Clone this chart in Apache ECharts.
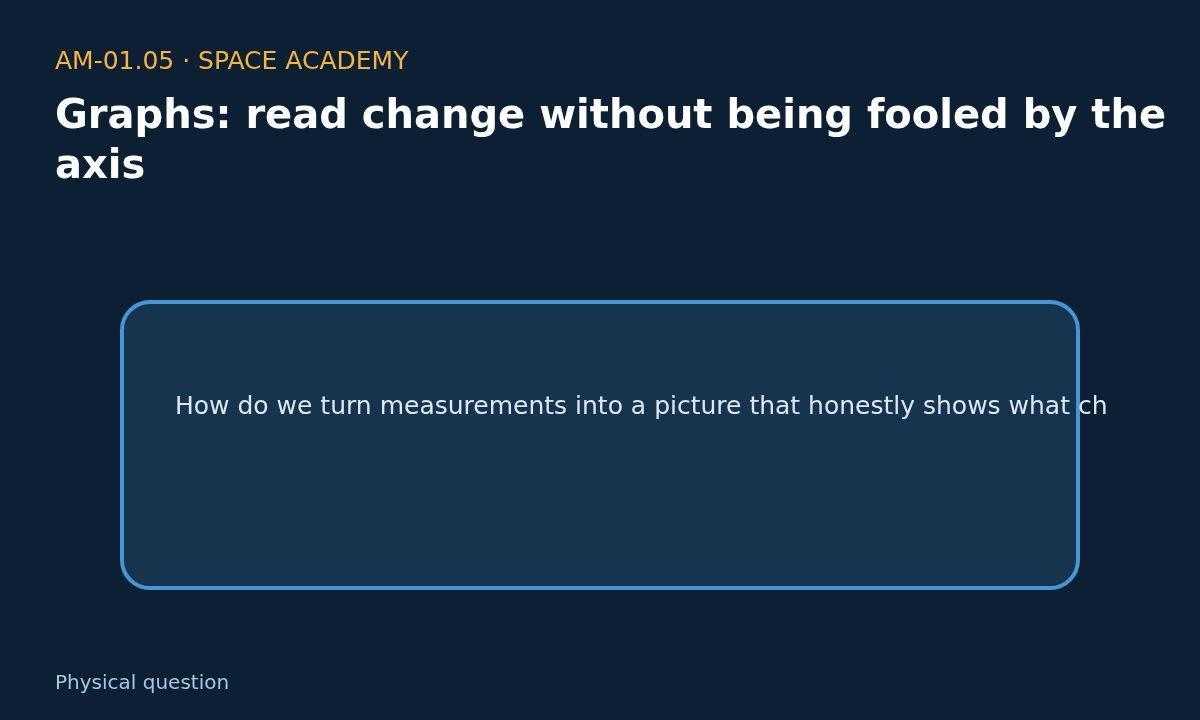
<!DOCTYPE html>
<html>
  <head>
    <meta charset="utf-8">
    <title>AM-01.05 Space Academy</title>
    <style>
      html, body { margin: 0; padding: 0; background: #0d1f33; }
    </style>
  </head>
  <body>
    <div id="main" style="width: 1200px;height:720px;"></div>

  <script src="https://cdn.jsdelivr.net/npm/echarts@6/dist/echarts.min.js" charset="utf-8"></script>
  <script type="text/javascript">
  // slide texts
  var kicker = 'AM-01.05 · SPACE ACADEMY';
  var titleLines = ['Graphs: read change without being fooled by the', 'axis'];
  var question = 'How do we turn measurements into a picture that honestly shows what changes over time?';
  var footer = 'Physical question';

  var myChart = echarts.init(document.getElementById('main'));

  var font = 'DejaVu Sans';

  var option = {
    backgroundColor: '#0d1f33',
    graphic: [
      {
        type: 'text',
        left: 55,
        top: 50,
        style: { text: kicker, fill: '#f2b544', fontFamily: font, fontSize: 25 }
      },
      {
        type: 'text',
        left: 55,
        top: 93,
        style: {
          text: titleLines.join('\n'),
          fill: '#ffffff',
          fontFamily: font,
          fontSize: 40,
          fontWeight: 'bold',
          lineHeight: 50
        }
      },
      {
        type: 'rect',
        shape: { x: 122, y: 302, width: 956, height: 286, r: 28 },
        style: { fill: '#17344f', stroke: '#4597d3', lineWidth: 4 }
      },
      {
        type: 'text',
        left: 175,
        top: 395,
        z: 10,
        style: {
          text: question,
          fill: '#dce9f6',
          fontFamily: font,
          fontSize: 25,
          width: 936,
          overflow: 'truncate',
          ellipsis: ''
        }
      },
      {
        type: 'text',
        left: 55,
        top: 674,
        style: { text: footer, fill: '#a8c6e4', fontFamily: font, fontSize: 20 }
      }
    ]
  };
  myChart.setOption(option);
  </script>
  </body>
</html>
